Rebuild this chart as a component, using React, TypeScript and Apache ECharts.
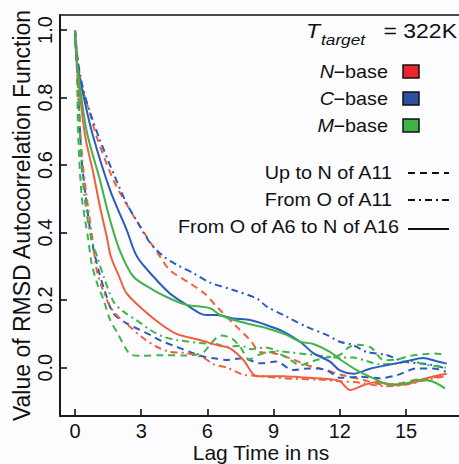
import React, { useEffect, useRef } from "react";
import * as echarts from "echarts";

// Lag time (ns) / autocorrelation pairs
const nSolid: number[][] = [[0,1],[0.08,0.9],[0.45,0.69],[0.83,0.576],[1.13,0.477],[1.44,0.388],[1.62,0.33],[2.0,0.27],[2.34,0.22],[3.1,0.171],[3.85,0.131],[4.6,0.1],[5.66,0.082],[6.42,0.067],[7.02,0.057],[7.63,0.023],[8.23,-0.025],[9.44,-0.025],[10.2,-0.028],[11.55,-0.034],[12.0,-0.04],[12.46,-0.066],[13.06,-0.052],[13.67,-0.042],[14.57,-0.052],[15.48,-0.042],[16.1,-0.028],[16.84,-0.018]];
const cSolid: number[][] = [[0,1],[0.1,0.9],[0.4,0.8],[0.8,0.69],[1.59,0.526],[2.34,0.408],[2.8,0.33],[3.55,0.27],[4.3,0.22],[5.06,0.186],[5.66,0.161],[5.97,0.156],[6.42,0.156],[7.17,0.146],[7.93,0.141],[8.69,0.126],[9.44,0.107],[10.2,0.077],[10.8,0.043],[11.55,0.018],[12.0,-0.008],[12.6,-0.018],[13.37,-0.003],[14.1,0.007],[14.88,0.017],[15.78,0.029],[16.39,0.019],[16.84,0.012]];
const mSolid: number[][] = [[0,1],[0.1,0.9],[0.53,0.7],[1.13,0.556],[1.59,0.437],[2.04,0.345],[2.64,0.27],[3.55,0.23],[4.3,0.205],[5.06,0.186],[6.12,0.176],[6.57,0.156],[7.48,0.136],[8.69,0.117],[9.59,0.097],[10.2,0.077],[10.8,0.07],[11.55,0.047],[12.0,0.025],[12.76,-0.007],[13.5,-0.031],[14.27,-0.05],[15.03,-0.046],[15.63,-0.036],[16.2,-0.041],[16.76,-0.061]];

const nDashed: number[][] = [[0,1],[0.1,0.93],[0.23,0.86],[0.45,0.8],[0.68,0.753],[0.98,0.684],[1.74,0.556],[2.49,0.467],[3.25,0.388],[3.85,0.329],[4.3,0.289],[5.21,0.25],[5.9,0.218],[6.42,0.181],[7.33,0.121],[7.93,0.082],[8.38,0.047],[8.99,0.043],[9.74,0.028],[10.5,0.008],[11.1,-0.002],[12,-0.02],[13,-0.035],[14,-0.05],[14.8,-0.045],[15.5,-0.035],[16.2,-0.03],[16.8,-0.02]];
const cDashed: number[][] = [[0,1],[0.1,0.88],[0.3,0.62],[0.5,0.5],[0.75,0.38],[1.06,0.29],[1.36,0.225],[1.74,0.161],[2.34,0.131],[2.95,0.112],[3.4,0.097],[4.0,0.077],[4.6,0.062],[5.2,0.047],[5.8,0.033],[6.3,0.028],[6.9,0.023],[7.6,0.028],[8.4,0.013],[9.1,0.018],[9.9,-0.007],[10.6,-0.002],[11.4,-0.007],[12,-0.03],[12.9,-0.027],[13.8,-0.031],[14.6,-0.022],[15.5,-0.002],[16.2,-0.002],[16.8,-0.012]];
const mDashed: number[][] = [[0,1],[0.08,0.9],[0.15,0.68],[0.3,0.51],[0.45,0.44],[0.6,0.38],[0.75,0.31],[1.0,0.25],[1.3,0.2],[1.6,0.14],[1.95,0.1],[2.25,0.062],[2.55,0.038],[3.0,0.035],[4,0.037],[5,0.036],[5.8,0.045],[6.2,0.075],[6.6,0.095],[7.1,0.087],[7.5,0.06],[7.9,0.025],[8.4,0.04],[9,0.047],[9.6,0.03],[10.2,0.008],[10.8,0.02],[11.4,0.03],[12,0.038],[12.4,0.06],[12.8,0.068],[13.4,0.06],[14,0.022],[14.6,0.025],[15.2,0.035],[15.8,0.04],[16.3,0.042],[16.8,0.037]];

const nDashDot: number[][] = [[0,1],[0.1,0.88],[0.3,0.64],[0.5,0.52],[0.75,0.4],[0.98,0.29],[1.21,0.24],[1.59,0.181],[1.96,0.151],[2.49,0.121],[3.1,0.087],[3.7,0.062],[4.3,0.047],[5.06,0.043],[5.8,0.03],[6.3,0.01],[6.9,0.0],[7.6,-0.02],[8.4,-0.025],[9.2,-0.03],[10,-0.033],[11,-0.035],[12,-0.04],[13,-0.045],[14,-0.055],[15,-0.05],[16,-0.035],[16.8,-0.025]];
const cDashDot: number[][] = [[0,1],[0.1,0.92],[0.38,0.822],[0.75,0.743],[1.13,0.674],[1.74,0.576],[2.34,0.487],[2.95,0.418],[3.4,0.37],[4.0,0.33],[4.6,0.305],[5.36,0.28],[6.12,0.252],[7.17,0.23],[8.23,0.205],[8.69,0.181],[9.59,0.151],[10.5,0.121],[11.4,0.097],[12,0.077],[12.6,0.067],[13.2,0.047],[14.1,0.038],[14.9,0.018],[15.6,0.013],[16.2,0.008],[16.8,-0.002]];
const mDashDot: number[][] = [[0,1],[0.1,0.88],[0.3,0.6],[0.5,0.47],[0.75,0.38],[1.0,0.33],[1.3,0.27],[1.75,0.195],[2.2,0.166],[2.8,0.14],[3.4,0.112],[4.0,0.092],[4.6,0.082],[5.7,0.073],[6.4,0.07],[6.9,0.062],[7.5,0.065],[8.0,0.055],[8.6,0.06],[9.2,0.05],[9.8,0.045],[10.5,0.04],[11.2,0.035],[12,0.03],[12.6,0.03],[13.2,0.02],[13.8,0.01],[14.5,0.012],[15.2,0.02],[15.8,0.01],[16.3,0.005],[16.8,0.0]];

const xTicks = [0, 3, 6, 9, 12, 15];
const yTicks = [0, 0.2, 0.4, 0.6, 0.8, 1.0];
const baseNames = ["N", "C", "M"];
const lineNames = ["Up to N of A11", "From O of A11", "From O of A6 to N of A16"];

const RED = "#F0603C";
const BLUE = "#2A5CBE";
const GREEN = "#3DB54A";
const SQ = ["#E8262C", "#2C50A2", "#3FB34A"];
const DASH = [7, 5];
const DASHDOT = [7, 4, 2, 4];
const FONT = "'Liberation Sans', Arial, sans-serif";

export default function App() {
  const ref = useRef<HTMLDivElement>(null);
  useEffect(() => {
    if (!ref.current) return;
    const chart = echarts.init(ref.current, null, { renderer: "svg" });
    const mk = (name: string, data: number[][], color: string, type: any) => ({
      type: "line",
      name,
      data,
      showSymbol: false,
      symbol: "none",
      smooth: 0.3,
      lineStyle: { color, width: 2, type },
      itemStyle: { color },
      z: 2,
    });
    const gridLeft = 60, gridTop = 15, gridRight = -3, gridBottom = 48;
    const W = 459, H = 464;
    const pxPerX = 22.07;
    const xMin = -15 / pxPerX;
    const xMax = xMin + (W - gridLeft - gridRight) / pxPerX;
    const pxPerY = 337.7;
    const yMin = -(416 - 367.7) / pxPerY;
    const yMax = yMin + (H - gridTop - gridBottom) / pxPerY;

    const txt = (text: string, x: number, y: number, align: string, extra: any = {}) => ({
      type: "text",
      x,
      y,
      scaleX: extra.scaleX ?? 1.1,
      style: {
        text,
        x: 0,
        y: 0,
        textAlign: align,
        textVerticalAlign: "middle",
        fontFamily: FONT,
        fontSize: extra.fontSize ?? 18,
        fontStyle: extra.fontStyle ?? "normal",
        fill: "#111",
      },
      z: 10,
    });

    const graphics: any[] = [];
    graphics.push(txt("T", 320, 31, "right", { fontStyle: "italic", fontSize: 20, scaleX: 1.15 }));
    graphics.push(txt("target", 321, 39, "left", { fontStyle: "italic", fontSize: 15, scaleX: 1.15 }));
    graphics.push(txt("= 322K", 457, 31, "right", { fontSize: 20, scaleX: 1.15 }));
    const rowsY = [72, 99, 126];
    baseNames.forEach((b, i) => {
      graphics.push(txt("\u2212base", 388, rowsY[i], "right"));
      graphics.push(txt(b, 334, rowsY[i], "right", { fontStyle: "italic" }));
      graphics.push({
        type: "rect",
        shape: { x: 403, y: rowsY[i] - 7, width: 16, height: 13 },
        style: { fill: SQ[i], stroke: "#111", lineWidth: 1.5 },
        z: 10,
      });
    });
    const lineRowsY = [173, 200, 227];
    const dashes: any[] = [DASH, DASHDOT, null];
    lineNames.forEach((n, i) => {
      graphics.push(txt(n, i === 2 ? 399 : 392, lineRowsY[i], "right"));
      graphics.push({
        type: "line",
        shape: { x1: 408, y1: lineRowsY[i] + (i === 2 ? 2 : 0), x2: 449, y2: lineRowsY[i] + (i === 2 ? 2 : 0) },
        style: { stroke: "#111", lineWidth: 2, lineDash: dashes[i] || undefined },
        z: 10,
      });
    });

    const axisText = { fontFamily: FONT, fontSize: 20, color: "#111", lineHeight: 20 };
    chart.setOption({
      animation: false,
      backgroundColor: "#fdfdff",
      grid: {
        left: gridLeft,
        top: gridTop,
        right: gridRight,
        bottom: gridBottom,
        containLabel: false,
        outerBoundsMode: "none",
        show: true,
        borderColor: "#111",
        borderWidth: 1.6,
        backgroundColor: "transparent",
      },
      xAxis: {
        type: "value",
        min: xMin,
        max: xMax,
        name: "Lag Time in ns",
        nameLocation: "middle",
        nameGap: 26,
        nameMoveOverlap: false,
        nameTextStyle: { fontFamily: FONT, fontSize: 21, color: "#111", lineHeight: 20 },
        axisLine: { show: true, onZero: false, lineStyle: { color: "#111", width: 1.6 } },
        axisTick: { show: true, inside: true, length: 7, lineStyle: { color: "#111", width: 1.6 }, customValues: xTicks },
        axisLabel: { ...axisText, margin: 5, customValues: xTicks, formatter: (v: number) => String(v) },
        splitLine: { show: false },
      },
      yAxis: {
        type: "value",
        min: yMin,
        max: yMax,
        name: "Value of RMSD Autocorrelation Function",
        nameLocation: "middle",
        nameGap: 27,
        nameMoveOverlap: false,
        nameTextStyle: { fontFamily: FONT, fontSize: 23, color: "#111" },
        axisLine: { show: true, onZero: false, lineStyle: { color: "#111", width: 1.6 } },
        axisTick: { show: true, inside: true, length: 7, lineStyle: { color: "#111", width: 1.6 }, customValues: yTicks },
        axisLabel: { ...axisText, margin: 5, rotate: 90, customValues: yTicks, formatter: (v: number) => v.toFixed(1) },
        splitLine: { show: false },
      },
      series: [
        mk("N dashed", nDashed, RED, DASH),
        mk("C dashed", cDashed, BLUE, DASH),
        mk("M dashed", mDashed, GREEN, DASH),
        mk("N dash-dot", nDashDot, RED, DASHDOT),
        mk("C dash-dot", cDashDot, BLUE, DASHDOT),
        mk("M dash-dot", mDashDot, GREEN, DASHDOT),
        mk("N solid", nSolid, RED, "solid"),
        mk("C solid", cSolid, BLUE, "solid"),
        mk("M solid", mSolid, GREEN, "solid"),
      ],
      graphic: graphics,
    });
    return () => chart.dispose();
  }, []);
  return <div ref={ref} style={{ position: "absolute", left: 0, top: 0, width: 459, height: 464 }} />;
}
